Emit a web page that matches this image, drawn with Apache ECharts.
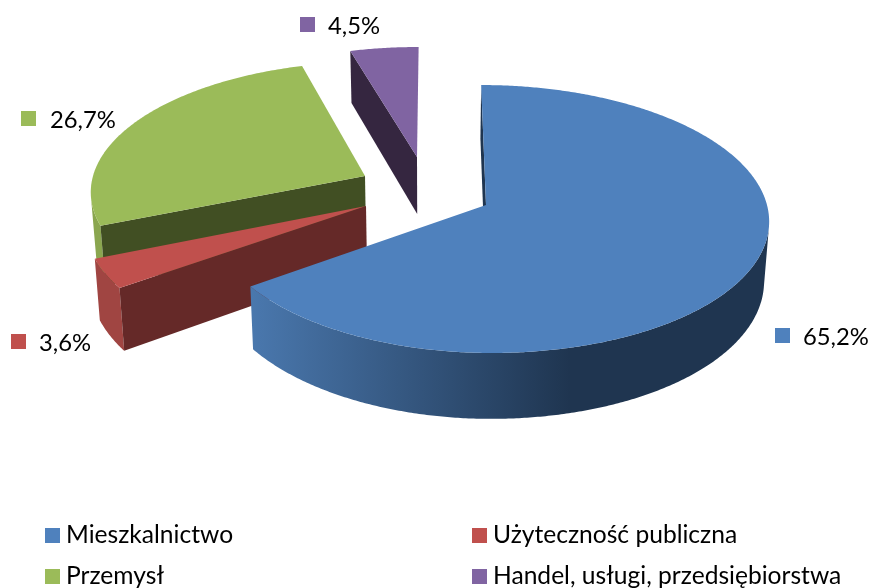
<!DOCTYPE html>
<html><head><meta charset="utf-8">
<style>html,body{margin:0;padding:0;background:#fff}#c{width:869px;height:588px}</style>
<script src="https://cdn.jsdelivr.net/npm/echarts@6/dist/echarts.min.js"></script>
</head><body><div id="c"></div>
<script>
const categories = ['Mieszkalnictwo', 'Użyteczność publiczna', 'Przemysł', 'Handel, usługi, przedsiębiorstwa'];
const shares = [65.2, 3.6, 26.7, 4.5];

const topColors = ['#4f81bd', '#c0504d', '#9bbb59', '#8064a2'];
const faceColors = ['#1f3550', '#652928', '#414f23', '#352640'];
const wallColors = [
  {type:'linear',x:250,y:0,x2:570,y2:0,global:true,colorStops:[{offset:0,color:'#4a78ae'},{offset:1,color:'#1f3550'}]},
  '#a04542', '#8aa64f', '#6c5489'
];
// Perspective projection of each exploded slice (screen-space layout only)
const VP = [435, -1063];
const layout = [
  {ax:486, ay:205, a:281, aLeft:275, k:.1045, z:4, mark:[775,328], text:[803,337], legend:[45,523]},
  {ax:366, ay:206, a:278.5, aLeft:278.5, k:.105, z:3, mark:[11,334],  text:[39,343], legend:[472,523]},
  {ax:365, ay:176, a:272, aLeft:272, k:.1015, z:2, mark:[21,111],  text:[50,120], legend:[45,564]},
  {ax:417, ay:157, a:268, aLeft:268, k:.0991, z:1, mark:[300,17],  text:[328,26], legend:[472,564]}
];
const total = shares.reduce((p, c) => p + c, 0);
const FONT = 'Lato, "Open Sans", sans-serif';

function project(s, deg) {
  const t = deg * Math.PI / 180, X = Math.sin(t), Y = Math.cos(t), w = 1 + s.k * Y;
  const a = X < 0 ? s.aLeft : s.a;
  return [s.ax + (a * X + (VP[0] - s.ax) * s.k * Y) / w, s.ay + (VP[1] - s.ay) * s.k * Y / w];
}
function drop(p) {
  return [p[0] + (430 - p[0]) * 0.015, p[1] + 52 + 0.046 * (p[1] - 51)];
}
function poly(points, fill) {
  return {type:'polygon', shape:{points}, style:{fill, stroke:null}, silent:true};
}
function frontArc(arc) {
  // keep the part of the rim whose outward side faces the viewer
  const keep = [];
  for (let j = 0; j < arc.length - 1; j++) {
    const p = arc[j], q = arc[j + 1], d = drop(p);
    const ex = q[0] - p[0], ey = q[1] - p[1], Dx = d[0] - p[0], Dy = d[1] - p[1];
    if (ey * Dx - ex * Dy > 0) { if (!keep.length || keep[keep.length - 1] !== p) keep.push(p); keep.push(q); }
  }
  return keep;
}
function sliceChildren(i) {
  const s = layout[i];
  const before = shares.slice(0, i).reduce((p, c) => p + c, 0);
  const a0 = before / total * 360, a1 = (before + shares[i]) / total * 360;
  const arc = [];
  const n = Math.max(8, Math.ceil((a1 - a0) * 2));
  for (let j = 0; j <= n; j++) arc.push(project(s, a0 + (a1 - a0) * j / n));
  const apex = [s.ax, s.ay];
  const corner = arc[0];
  const front = frontArc(arc);
  const kids = [];
  if (front.length > 1) kids.push(poly(front.concat(front.map(drop).reverse()), wallColors[i]));
  kids.push(
    poly([apex, corner, drop(corner), drop(apex)], faceColors[i]),
    poly([apex].concat(arc), topColors[i]),
    {type:'rect', shape:{x:s.mark[0], y:s.mark[1], width:15, height:15}, style:{fill:topColors[i]}, silent:true},
    {type:'text', x:s.text[0], y:s.text[1], style:{
      text:shares[i].toFixed(1).replace('.', ',') + '%', fill:'#000', font:'23.8px ' + FONT,
      textAlign:'left', textVerticalAlign:'middle'}, silent:true}
  );
  return kids;
}
const series = categories.map((name, i) => ({
  type:'custom', name, coordinateSystem:'none', z:layout[i].z, silent:true, animation:false,
  itemStyle:{color:topColors[i]},
  data:[shares[i]],
  renderItem:() => ({type:'group', children:sliceChildren(i)})
}));
const legends = categories.map((name, i) => ({
  show:true, left:layout[i].legend[0], top:layout[i].legend[1], padding:0, itemWidth:15, itemHeight:15,
  icon:'rect', data:[name], selectedMode:false,
  textStyle:{fontFamily:FONT, fontSize:24.6, color:'#000', padding:[0,0,0,1]}
}));
const chart = echarts.init(document.getElementById('c'), null, {renderer:'canvas'});
chart.setOption({animation:false, backgroundColor:'#fff', legend:legends, series});
</script></body></html>
